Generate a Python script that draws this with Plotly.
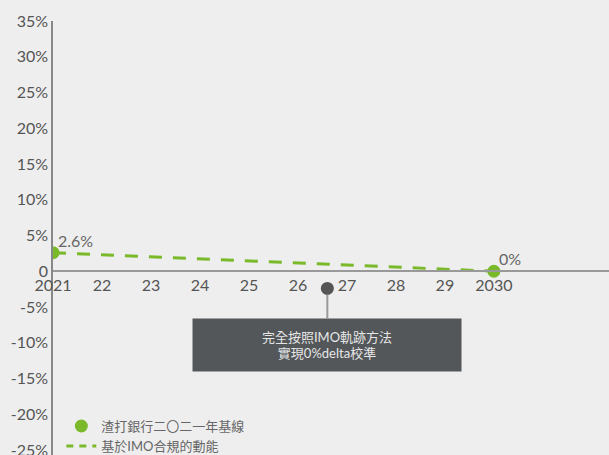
import plotly.graph_objects as go

years = [2021, 2030]
baseline_vals = [2.6, 0.0]
point_labels = ["2.6%", "0%"]
callout_x = [2026.6]
callout_y = [-2.4]
callout_text = "完全按照IMO軌跡方法<br>實現0%delta校準"
ytick_vals = [-25, -20, -15, -10, -5, 0, 5, 10, 15, 20, 25, 30, 35]
ytick_text = ["-25%", "-20%", "-15%", "-10%", "-5%", "0", "5%", "10%", "15%", "20%", "25%", "30%", "35%"]
xtick_vals = list(range(2021, 2031))
xtick_text = ["2021", "22", "23", "24", "25", "26", "27", "28", "29", "2030"]
series_names = ["渣打銀行二〇二一年基線", "基於IMO合規的動能"]

GREEN = "#7ab929"
FONT = "Lato, Noto Sans CJK TC, sans-serif"
YMIN, YMAX = -25.7, 35

fig = go.Figure()
fig.add_trace(go.Scatter(
    x=years, y=baseline_vals, mode="lines",
    line=dict(color=GREEN, width=3, dash="13px,11px"),
    name=series_names[1], showlegend=False, hoverinfo="skip"))
fig.add_trace(go.Scatter(
    x=years, y=baseline_vals, mode="markers",
    marker=dict(color=GREEN, size=13),
    name=series_names[0], showlegend=True))
fig.add_trace(go.Scatter(
    x=[None], y=[None], mode="lines",
    line=dict(color=GREEN, width=3, dash="7px,6px"),
    name=series_names[1], showlegend=True))
fig.add_trace(go.Scatter(
    x=callout_x, y=callout_y, mode="markers",
    marker=dict(color="#555555", size=13),
    showlegend=False, hoverinfo="skip"))

for xv, yv, lab in zip(years, baseline_vals, point_labels):
    fig.add_annotation(x=xv, y=yv, xref="x", yref="y", text=lab, showarrow=False,
                       xanchor="left", yanchor="bottom", xshift=3, yshift=1,
                       font=dict(size=16, color="#666666", family=FONT))

fig.add_annotation(
    x=callout_x[0], y=callout_y[0], xref="x", yref="y",
    text=callout_text, showarrow=True, arrowhead=0, arrowwidth=2,
    arrowcolor="#999999", ax=0, ay=57, standoff=6,
    bgcolor="#53575a", width=260, height=44, borderpad=4,
    font=dict(size=13, color="#e6e6e6", family=FONT), align="center")

fig.update_layout(
    width=609, height=455,
    margin=dict(l=53, r=0, t=21, b=0, autoexpand=False),
    paper_bgcolor="#eeeeee", plot_bgcolor="#eeeeee",
    font=dict(family=FONT, color="#555555"),
    legend=dict(x=0.015, y=-0.014, xanchor="left", yanchor="bottom",
                bgcolor="rgba(0,0,0,0)", font=dict(size=13, color="#666666"),
                itemwidth=30, tracegroupgap=0),
    xaxis=dict(range=[2021, 2032.35], tickvals=xtick_vals, ticktext=xtick_text,
               showgrid=False, zeroline=False, showline=True, linecolor="#999999",
               linewidth=2, anchor="free", position=(0 - YMIN) / (YMAX - YMIN),
               tickfont=dict(size=16, color="#555555"), ticks="", automargin=False),
    yaxis=dict(range=[YMIN, YMAX], tickvals=ytick_vals, ticktext=ytick_text,
               showgrid=False, zeroline=False, showline=True, linecolor="#888888",
               linewidth=1.5, tickfont=dict(size=16, color="#555555"), ticks="",
               ticklabeloverflow="allow", automargin=False),
)

fig.write_html("out.html")
